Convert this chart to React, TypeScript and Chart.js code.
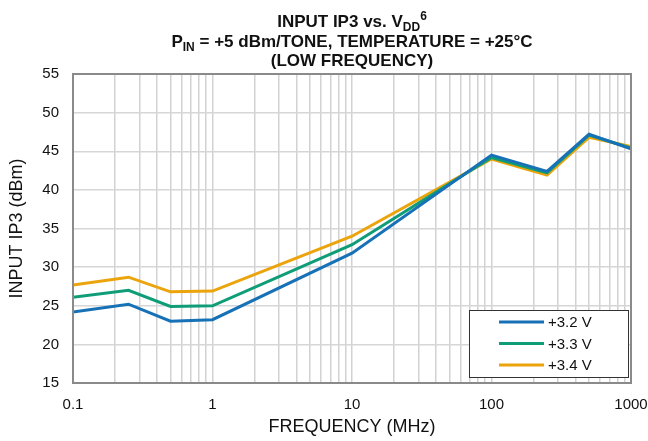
import React, { useEffect, useRef } from "react";
import { Chart, registerables } from "chart.js";

Chart.register(...registerables);

const frequencies = [0.1, 0.25, 0.5, 1, 10, 100, 250, 500, 1000];
const v32 = [24.2, 25.2, 23.0, 23.2, 31.8, 44.5, 42.4, 47.2, 45.3];
const v33 = [26.1, 27.0, 24.9, 25.0, 32.9, 44.2, 42.2, 47.1, 45.4];
const v34 = [27.7, 28.7, 26.8, 26.9, 34.0, 44.0, 41.9, 46.8, 45.6];
const seriesLabels = ["+3.2 V", "+3.3 V", "+3.4 V"];
const seriesColors = ["#1771b6", "#0f9d78", "#eba40c"];
const decades = [0.1, 1, 10, 100];
const multipliers = [1, 2, 3, 4, 5, 6, 7, 8, 9];
const xMajorLabels = [0.1, 1, 10, 100, 1000];

const FONT = "'Liberation Sans', Arial, sans-serif";

type Run = { text: string; mode?: "sub" | "sup" };

function drawRich(ctx: CanvasRenderingContext2D, runs: Run[], cx: number, baseline: number, size: number) {
  const small = Math.round(size * 0.68);
  const widths = runs.map((r) => {
    ctx.font = `bold ${r.mode ? small : size}px ${FONT}`;
    return ctx.measureText(r.text).width;
  });
  const total = widths.reduce((a, b) => a + b, 0);
  let x = cx - total / 2;
  runs.forEach((r, i) => {
    ctx.font = `bold ${r.mode ? small : size}px ${FONT}`;
    const dy = r.mode === "sub" ? 4 : r.mode === "sup" ? -7 : 0;
    ctx.fillText(r.text, x, baseline + dy);
    x += widths[i];
  });
}

const titlePlugin = {
  id: "richTitle",
  afterDraw(chart: any) {
    const ctx = chart.ctx as CanvasRenderingContext2D;
    const { left, right } = chart.chartArea;
    const cx = (left + right) / 2;
    ctx.save();
    ctx.fillStyle = "#111";
    ctx.textBaseline = "alphabetic";
    ctx.textAlign = "left";
    drawRich(ctx, [{ text: "INPUT IP3 vs. V" }, { text: "DD", mode: "sub" }, { text: "6", mode: "sup" }], cx, 27, 17);
    drawRich(ctx, [{ text: "P" }, { text: "IN", mode: "sub" }, { text: " = +5 dBm/TONE, TEMPERATURE = +25°C" }], cx, 47, 17);
    drawRich(ctx, [{ text: "(LOW FREQUENCY)" }], cx, 66, 17);
    ctx.restore();
  },
};

const framePlugin = {
  id: "frame",
  afterDatasetsDraw(chart: any) {
    const ctx = chart.ctx as CanvasRenderingContext2D;
    const { left, right, top, bottom } = chart.chartArea;
    ctx.save();
    ctx.strokeStyle = "#8a8a8a";
    ctx.lineWidth = 2;
    ctx.strokeRect(left, top, right - left, bottom - top);
    ctx.restore();
  },
};

const legendPlugin = {
  id: "boxLegend",
  afterDraw(chart: any) {
    const ctx = chart.ctx as CanvasRenderingContext2D;
    const bx = 469, by = 310, bw = 159, bh = 67;
    ctx.save();
    ctx.fillStyle = "#ffffff";
    ctx.fillRect(bx, by, bw, bh);
    ctx.strokeStyle = "#333";
    ctx.lineWidth = 1;
    ctx.strokeRect(bx + 0.5, by + 0.5, bw, bh);
    chart.data.datasets.forEach((ds: any, i: number) => {
      const y = by + 12 + i * 21.5;
      ctx.strokeStyle = ds.borderColor;
      ctx.lineWidth = 3;
      ctx.beginPath();
      ctx.moveTo(499, y);
      ctx.lineTo(544, y);
      ctx.stroke();
      ctx.fillStyle = "#111";
      ctx.font = `15px ${FONT}`;
      ctx.textBaseline = "middle";
      ctx.textAlign = "left";
      ctx.fillText(ds.label, 548, y + 1);
    });
    ctx.restore();
  },
};

export default function App() {
  const ref = useRef<HTMLCanvasElement>(null);
  useEffect(() => {
    if (!ref.current) return;
    const seriesValues = [v32, v33, v34];
    const xTicks: number[] = [];
    decades.forEach((d) => multipliers.forEach((m) => xTicks.push(Math.round(d * m * 10) / 10)));
    xTicks.push(1000);
    const chart = new Chart(ref.current, {
      type: "line",
      data: {
        datasets: seriesValues.map((vals, i) => ({
          label: seriesLabels[i],
          data: frequencies.map((f, j) => ({ x: f, y: vals[j] })),
          borderColor: seriesColors[i],
          backgroundColor: seriesColors[i],
          borderWidth: 3,
          pointRadius: 0,
          tension: 0,
        })),
      },
      options: {
        animation: false,
        responsive: false,
        layout: { padding: { left: 0, right: 17, top: 74, bottom: 0 } },
        plugins: { legend: { display: false }, title: { display: false }, tooltip: { enabled: false } },
        scales: {
          x: {
            type: "logarithmic",
            min: 0.1,
            max: 1000,
            afterBuildTicks: (scale: any) => {
              scale.ticks = xTicks.map((v) => ({ value: v }));
            },
            afterFit: (scale: any) => {
              scale.height = 58;
              scale.paddingLeft = 0;
              scale.paddingRight = 0;
            },
            grid: { color: "#d2d2d2", lineWidth: 1.5, drawTicks: false },
            border: { display: false },
            ticks: {
              autoSkip: false,
              maxRotation: 0,
              padding: 13,
              color: "#111",
              font: { family: FONT, size: 15 },
              callback: (v: any) => (xMajorLabels.includes(Number(v)) ? String(v) : ""),
            },
            title: {
              display: true,
              text: "FREQUENCY (MHz)",
              color: "#111",
              font: { family: FONT, size: 18 },
              padding: { top: 4, bottom: 3 },
            },
          },
          y: {
            min: 15,
            max: 55,
            afterFit: (scale: any) => {
              scale.width = 73;
              scale.paddingTop = 0;
              scale.paddingBottom = 0;
            },
            grid: { color: "#d6d6d6", lineWidth: 1.5, drawTicks: false },
            border: { display: false },
            ticks: {
              stepSize: 5,
              padding: 14,
              color: "#111",
              font: { family: FONT, size: 15 },
            },
            title: {
              display: true,
              text: "INPUT IP3 (dBm)",
              color: "#111",
              font: { family: FONT, size: 18 },
              padding: { top: 6, bottom: 0 },
            },
          },
        },
      },
      plugins: [framePlugin, titlePlugin, legendPlugin],
    } as any);
    return () => chart.destroy();
  }, []);
  return (
    <div style={{ position: "fixed", left: 0, top: 0, width: 648, height: 441, background: "#fff" }}>
      <canvas ref={ref} width={648} height={441} style={{ width: 648, height: 441 }} />
    </div>
  );
}
